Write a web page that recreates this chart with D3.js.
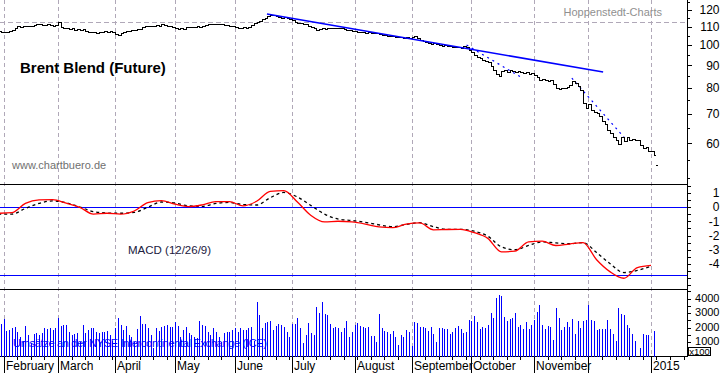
<!DOCTYPE html>
<html>
<head>
<meta charset="utf-8">
<script src="https://cdn.jsdelivr.net/npm/d3@7"></script>
<style>
body { margin: 0; background: #fff; }
svg { display: block; font-family: Arial, "Liberation Sans", sans-serif; }
</style>
</head>
<body>
<svg id="myGraph" width="723" height="373"></svg>
<script>
// daily closes, Jan 30 2014 .. Jan 2 2015 (weekdays)
var closes = [
  107.4, 106.8,
  // Feb
  107.2, 106.9, 107.6, 108.4, 109.5, 110.2, 110.0, 110.5, 110.3, 110.6,
  110.2, 110.8, 111.3, 111.6, 111.2, 110.9, 111.5, 111.0, 110.7, 111.2,
  // Mar
  113.0, 109.8, 109.3, 109.3, 108.7, 109.3, 108.4, 108.7, 108.1, 108.7,
  107.6, 107.0, 107.3, 107.0, 106.7, 107.3, 107.0, 107.6, 107.0, 107.6, 107.3,
  // Apr
  105.9, 105.3, 106.5, 107.0, 107.6, 107.6, 108.1, 108.4, 108.7, 108.7, 109.8,
  110.4, 110.7, 110.7, 110.4, 111.0, 110.4, 111.3, 111.0, 110.4, 110.7, 110.1,
  // May
  109.3, 108.7, 109.0, 108.7, 109.8, 110.1, 109.8, 110.1, 110.4, 110.1, 110.7,
  111.0, 111.3, 111.6, 111.6, 111.3, 111.6, 111.3, 111.0, 111.0, 110.4, 110.7,
  // Jun
  109.8, 109.5, 109.3, 109.8, 109.5, 110.1, 111.0, 112.0, 112.9, 113.6, 114.3,
  115.3, 116.6, 117.2, 117.0, 116.6, 115.8, 115.4, 115.7, 115.0, 114.3,
  // Jul
  113.9, 112.7, 112.4, 112.1, 111.6, 111.3, 110.7, 109.8, 109.3, 108.1, 108.7, 109.3,
  108.7, 109.3, 109.5, 109.3, 109.0, 109.3, 109.0, 108.7, 108.1, 108.4, 107.6,
  // Aug
  107.6, 107.3, 107.0, 107.3, 106.7, 107.0, 106.5, 106.2, 106.5, 105.9, 105.3,
  105.6, 104.8, 105.0, 104.8, 104.2, 104.5, 104.2, 103.9, 104.2, 103.7,
  // Sep
  104.2, 104.8, 103.7, 102.6, 102.1, 101.6, 101.0, 100.5, 101.0, 100.5, 100.0,
  99.7, 100.0, 99.5, 99.5, 98.9, 99.2, 98.9, 98.7, 99.5, 98.9, 97.4,
  // Oct
  96.4, 94.9, 93.9, 93.5, 92.5, 92.0, 91.5, 89.6, 87.8, 86.0, 85.1, 87.3,
  87.8, 86.9, 87.8, 87.3, 86.9, 87.3, 86.9, 86.4, 86.9, 86.0, 86.4,
  // Nov
  85.5, 84.6, 83.3, 83.7, 83.3, 82.8, 83.3, 81.6, 80.0, 79.5,
  80.0, 79.8, 80.4, 81.2, 82.8, 82.0, 80.8, 79.1, 74.0, 72.0,
  // Dec
  73.6, 71.3, 70.6, 70.2, 69.1, 67.3, 66.3, 64.2, 63.2, 61.9, 61.0, 59.7,
  61.9, 60.7, 61.9, 61.0, 61.3, 61.0, 61.0, 59.5, 58.6, 58.9, 57.6,
  // Jan 2015
  57.6, 56.4
];
var lastQuote = { day: 242, value: 53.5 };

// volume (x100)
var volume = [
  2000, 2220,
  2590, 1760, 1830, 1940, 2060, 1670, 1370, 1100, 2080, 1480,
  900, 1530, 1600, 1480, 1640, 1940, 1870, 1940, 1830, 1940,
  2680, 2120, 2170, 2170, 1710, 1480, 1530, 1640, 1000, 2170,
  1640, 1830, 1940, 1990, 1710, 1600, 1710, 1710, 1760, 1480, 1100,
  1940, 2680, 2170, 1830, 2080, 1480, 1370, 1000, 1900, 2820, 2220,
  2220, 1940, 1480, 600, 1990, 1760, 2060, 2080, 2170, 2060, 2060,
  2400, 2120, 1370, 1830, 2060, 1640, 1480, 1370, 1300, 2480, 2170,
  2120, 1710, 1480, 1940, 1710, 1370, 1000, 1640, 1670, 1710, 1830,
  1940, 1710, 1990, 1830, 1830, 1940, 2060, 1100, 3740, 2860, 1940,
  2290, 2400, 2450, 1830, 2120, 2220, 2170, 2060, 1710, 1370,
  2220, 2220, 2630, 1940, 900, 1480, 2330, 1640, 1480, 3440, 2980, 3740,
  2900, 2860, 2220, 1990, 2060, 1940, 1710, 1940, 2450, 1370, 1710,
  2170, 2290, 2120, 2010, 1940, 2010, 1420, 1420, 1020, 2940, 1990,
  1760, 1710, 1550, 1760, 1370, 800, 1480, 1370, 1850, 1710,
  700, 2400, 2330, 2010, 2010, 1990, 1760, 2010, 1530, 1020, 1940,
  1990, 1900, 1900, 1550, 1710, 1940, 2120, 1900, 1600, 1710, 2510,
  2450, 2790, 2400, 1900, 2010, 1990, 2170, 3020, 2660, 4060, 4250,
  4180, 2720, 2450, 2560, 2630, 3020, 2060, 2170, 1900, 2400, 1900, 2170,
  2510, 3090, 3550, 2170, 1900, 2120, 2060, 1130, 3370, 2630,
  1830, 2060, 2400, 2060, 2590, 1550, 2450, 1990, 2450, 2510,
  3550, 2510, 2450, 1830, 1900, 1900, 1900, 2510, 1900, 1530, 1060, 3370,
  2910, 2860, 2170, 1990, 1530, 1060, 0, 590, 1530, 1480, 1480,
  0, 1760
];

// MACD (12/26/9), weekly readings
var macdLine = [-0.44, -0.4, 0.25, 0.5, 0.52, 0.27, -0.02, -0.5, -0.44, -0.5,
  -0.28, 0.3, 0.45, 0.2, 0.03, 0.15, 0.38, 0.38, 0.08, 0.4,
  1.1, 1.15, 0.35, -0.6, -1.05, -1.0, -1.05, -1.2, -1.4, -1.45,
  -1.2, -1.12, -1.6, -1.58, -1.57, -1.8, -2.2, -3.15, -3.1, -2.45,
  -2.4, -2.7, -2.6, -2.5, -3.7, -4.55, -5.0, -4.25, -4.1];
var signalLine = [-0.5, -0.5, -0.1, 0.25, 0.43, 0.3, 0.0, -0.32, -0.42, -0.44,
  -0.38, -0.02, 0.35, 0.28, 0.08, 0.05, 0.25, 0.32, 0.17, 0.14,
  0.65, 1.02, 0.7, 0.1, -0.5, -0.85, -0.95, -1.08, -1.25, -1.38,
  -1.22, -1.1, -1.38, -1.57, -1.57, -1.7, -2.05, -2.8, -3.0, -2.7,
  -2.45, -2.52, -2.58, -2.5, -3.2, -3.98, -4.6, -4.45, -4.15];
var macdDay = d3.range(0, 241, 5);

var monthLabels = ["February", "March", "April", "May", "June", "July", "August",
  "September", "October", "November", "", "2015"];
var priceTicks = [60, 70, 80, 90, 100, 110, 120];
var priceMinor = [50, 55, 65, 75, 85, 95, 105, 115, 125];
var macdTicks = [1, 0, -1, -2, -3, -4];
var macdLevels = [0, -4.8];
var volTicks = [1000, 2000, 3000, 4000];
var resistance = 112.6;

// trend lines (day index, price)
var trendMain = [[98.8, 117.5], [222.4, 86.9]];
var trendDots = [
  [[172.2, 100.0], [191.8, 84.9]],
  [[210.9, 84.2], [230.4, 61.6]]
];

var svg = d3.select("#myGraph");
var axisX = 687;

var days = d3.timeDays(new Date(2014, 0, 30), new Date(2015, 0, 24))
  .filter(function(d) { return d.getDay() % 6 !== 0; });

var x = d3.scaleLinear().domain([0, 241]).range([-1.8, -1.8 + 2.72 * 241]);
var yP = d3.scaleLog().domain([60, 120]).range([143.3, 10]);
var yM = d3.scaleLinear().domain([0, -4]).range([207, 264]);
var yV = d3.scaleLinear().domain([0, 4000]).range([356.5, 298.5]);

var monthStarts = [], mondays = [];
days.forEach(function(d, i) {
  if (i == 0 || x(i) > axisX) return;
  if (d.getMonth() != days[i - 1].getMonth()) monthStarts.push(i);
  else if (d.getDay() == 1) mondays.push(i);
});

function px(v) { return Math.round(v) + 0.5; }

// grid
var grid = svg.append("g").attr("stroke", "#b0a8b8").attr("stroke-width", 1)
  .attr("shape-rendering", "crispEdges");
grid.selectAll("line.v")
  .data(monthStarts)
  .enter()
  .append("line")
  .attr("x1", function(d) { return px(x(d)); })
  .attr("x2", function(d) { return px(x(d)); })
  .attr("y1", 0)
  .attr("y2", 356)
  .attr("stroke-dasharray", "4,3");
grid.append("line")
  .attr("x1", 0).attr("x2", axisX)
  .attr("y1", px(yP(resistance))).attr("y2", px(yP(resistance)))
  .attr("stroke-dasharray", "5,3");

// panel lines
var frame = svg.append("g").attr("stroke", "#000").attr("shape-rendering", "crispEdges");
[184, 289, 356].forEach(function(yy) {
  frame.append("line").attr("x1", 0).attr("x2", axisX + 0.5).attr("y1", yy + 0.5).attr("y2", yy + 0.5);
});
frame.append("line").attr("x1", axisX + 0.5).attr("x2", axisX + 0.5).attr("y1", 0).attr("y2", 357);

// blue MACD levels
svg.append("g").selectAll("line")
  .data(macdLevels)
  .enter()
  .append("line")
  .attr("x1", 0).attr("x2", axisX)
  .attr("y1", function(d) { return px(yM(d)); })
  .attr("y2", function(d) { return px(yM(d)); })
  .attr("stroke", "#0000ff")
  .attr("shape-rendering", "crispEdges");

// trend lines
var tline = d3.line()
  .x(function(d) { return x(d[0]); })
  .y(function(d) { return yP(d[1]); });
svg.selectAll("path.dots")
  .data(trendDots)
  .enter()
  .append("path")
  .attr("d", tline)
  .attr("fill", "none")
  .attr("stroke", "#0000ff")
  .attr("stroke-width", 1.2)
  .attr("stroke-dasharray", "2,4");

// price bars: open tick left, range, close tick right
var bars = svg.append("g").attr("stroke", "#000").attr("stroke-width", 1)
  .attr("shape-rendering", "crispEdges");
bars.selectAll("path")
  .data(closes)
  .enter()
  .append("path")
  .attr("d", function(d, i) {
    var prev = i ? closes[i - 1] : d;
    var xx = Math.round(x(i));
    var a = Math.round(yP(Math.max(prev, d))), b = Math.round(yP(Math.min(prev, d)));
    var yc = Math.round(yP(d)), yo = Math.round(yP(prev));
    return "M" + (xx - 1) + "," + (yo + 0.5) + "H" + xx +
      "M" + (xx + 0.5) + "," + a + "V" + (b + 1) +
      "M" + xx + "," + (yc + 0.5) + "H" + (xx + 2);
  })
  .attr("fill", "none");
bars.append("path")
  .attr("d", "M" + Math.round(x(lastQuote.day)) + "," + (Math.round(yP(lastQuote.value)) + 0.5) +
    "h2")
  .attr("fill", "none");

svg.append("path")
  .attr("d", tline(trendMain))
  .attr("fill", "none")
  .attr("stroke", "#0000ff")
  .attr("stroke-width", 1.6);

// MACD
var mline = function(arr) {
  return d3.line()
    .x(function(d, i) { return x(macdDay[i]); })
    .y(function(d) { return yM(d); })
    .curve(d3.curveMonotoneX)(arr);
};
svg.append("path")
  .attr("d", mline(signalLine))
  .attr("fill", "none")
  .attr("stroke", "#000")
  .attr("stroke-width", 1.3)
  .attr("stroke-dasharray", "3,3");
svg.append("path")
  .attr("d", mline(macdLine))
  .attr("fill", "none")
  .attr("stroke", "#ff0000")
  .attr("stroke-width", 1.3);

// volume
svg.append("g").selectAll("rect")
  .data(volume)
  .enter()
  .append("rect")
  .attr("x", function(d, i) { return Math.round(x(i)); })
  .attr("y", function(d) { return Math.round(yV(d)); })
  .attr("width", 1)
  .attr("height", function(d) { return Math.round(yV(0)) - Math.round(yV(d)); })
  .attr("fill", "#0000ff")
  .attr("shape-rendering", "crispEdges");

// right axes
var ax = svg.append("g").attr("stroke", "#000").attr("shape-rendering", "crispEdges");
function ticks(vals, scale, len) {
  ax.selectAll(null)
    .data(vals)
    .enter()
    .append("line")
    .attr("x1", axisX).attr("x2", axisX + len)
    .attr("y1", function(d) { return px(scale(d)); })
    .attr("y2", function(d) { return px(scale(d)); });
}
ticks(priceTicks, yP, 5);
ticks(priceMinor, yP, 3);
ticks(d3.range(1.5, -5.6, -0.5), yM, 4);
ticks(d3.range(500, 4600, 500), yV, 4);

function labels(vals, scale, size, dy) {
  svg.append("g").selectAll("text")
    .data(vals)
    .enter()
    .append("text")
    .attr("x", 719.5)
    .attr("y", function(d) { return scale(d); })
    .attr("dy", dy)
    .attr("text-anchor", "end")
    .attr("font-size", size)
    .text(function(d) { return d; });
}
labels(priceTicks, yP, "12px", "0.36em");
labels(macdTicks, yM, "12px", "0.36em");
labels(volTicks, yV, "11px", "0.28em");

svg.append("rect")
  .attr("x", 688.5).attr("y", 347.5).attr("width", 22).attr("height", 8)
  .attr("fill", "#fff").attr("stroke", "#000").attr("shape-rendering", "crispEdges");
svg.append("text").attr("x", 699.5).attr("y", 355).attr("text-anchor", "middle")
  .attr("font-size", "9.5px").text("x100");

// time axis
ax.selectAll(null)
  .data(monthStarts)
  .enter()
  .append("line")
  .attr("x1", function(d) { return px(x(d)); })
  .attr("x2", function(d) { return px(x(d)); })
  .attr("y1", 357).attr("y2", 373);
ax.selectAll(null)
  .data(mondays)
  .enter()
  .append("line")
  .attr("x1", function(d) { return px(x(d)); })
  .attr("x2", function(d) { return px(x(d)); })
  .attr("y1", 357).attr("y2", 360);
svg.append("g").selectAll("text")
  .data(monthStarts)
  .enter()
  .append("text")
  .attr("x", function(d) { return Math.round(x(d)) + 2; })
  .attr("y", 370)
  .attr("font-size", "12px")
  .text(function(d, i) { return monthLabels[i]; });

// captions
svg.append("text").attr("x", 20).attr("y", 73)
  .attr("font-size", "15px").attr("font-weight", "bold")
  .text("Brent Blend (Future)");
svg.append("text").attr("x", 662).attr("y", 16).attr("text-anchor", "end")
  .attr("font-size", "11px").attr("fill", "#909090")
  .text("Hoppenstedt-Charts");
svg.append("text").attr("x", 12).attr("y", 169)
  .attr("font-size", "11px").attr("fill", "#707070")
  .text("www.chartbuero.de");
svg.append("text").attr("x", 128).attr("y", 254)
  .attr("font-size", "11.5px").attr("fill", "#202040")
  .text("MACD (12/26/9)");
svg.append("text").attr("x", 13).attr("y", 347)
  .attr("font-size", "11px").attr("fill", "#0000ff")
  .attr("textLength", 254).attr("lengthAdjust", "spacing")
  .text("Umsätze an der NYSE Intercontinental Exchange (ICE)");
</script>
</body>
</html>
